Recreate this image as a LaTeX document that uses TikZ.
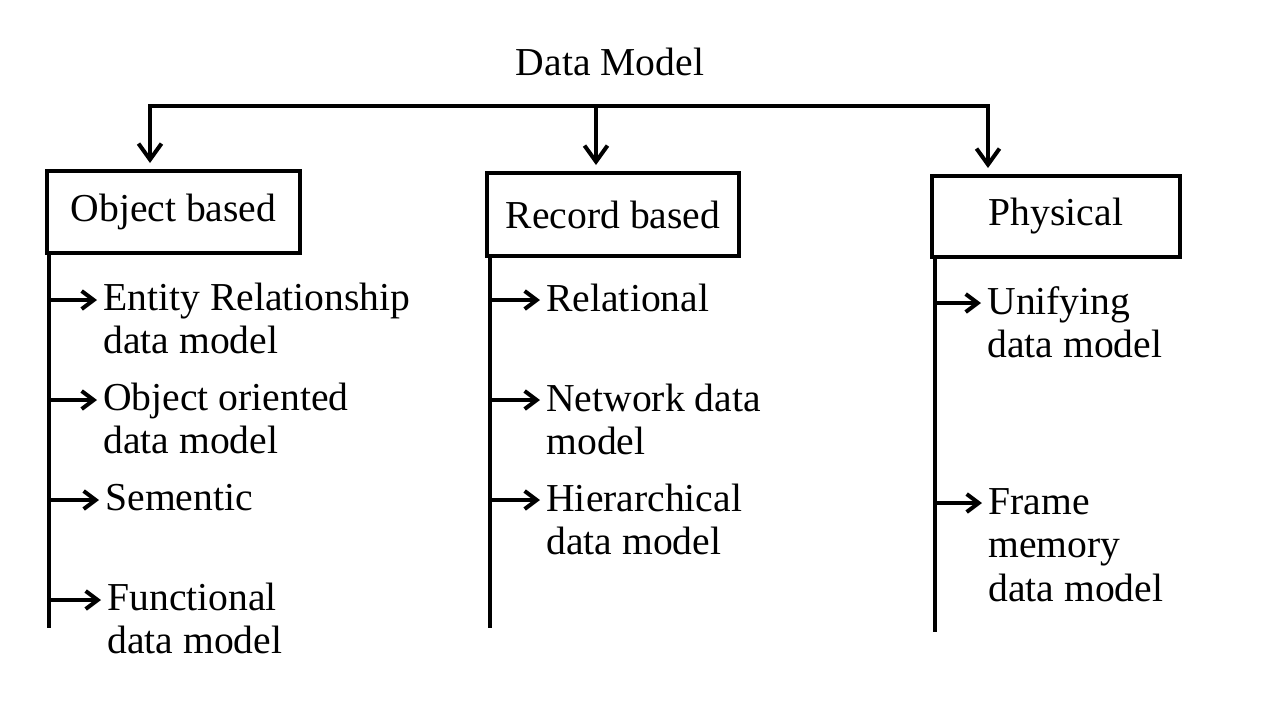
\documentclass[tikz,border=0pt]{standalone}
\usepackage{fontspec}
\setmainfont{Liberation Serif}
\usetikzlibrary{arrows.meta}
\begin{document}
\begin{tikzpicture}[x=0.5pt,y=-0.5pt,
  every node/.style={font=\fontsize{19.8}{21.8}\selectfont},
  line/.style={line width=2pt},
  box/.style={draw, line width=2pt, inner sep=0pt},
  item/.style={anchor=base west, align=left, inner sep=0pt},
  iarr/.style={line width=2pt, shorten >=3pt, -{Straight Barb[length=6pt,width=9pt,line width=2pt]}},
  darr/.style={line width=2pt, line join=miter, shorten <=3pt, shorten >=3pt,
     {Straight Barb[length=8pt,width=11.5pt,line width=2pt]}-{Straight Barb[length=8pt,width=11.5pt,line width=2pt]}},
  marr/.style={line width=2pt, shorten >=3pt, -{Straight Barb[length=8pt,width=11.5pt,line width=2pt]}}
]
\useasboundingbox[fill=white] (0,0) rectangle (1280,720);

\node (title) at (610,62) {Data Model};

\node[box, minimum width=126.5pt, minimum height=41pt] (b1) at (173.5,212) {Object based};
\node[box, minimum width=126pt, minimum height=41.5pt] (b2) at (613,214.5) {Record based};
\node[box, minimum width=124pt, minimum height=40.5pt] (b3) at (1056,216.5) {Physical};

\coordinate (tl) at (150,106);
\coordinate (tm) at (596,106);
\coordinate (tr) at (988,106);
\draw[darr] (tl |- b1.north) -- (tl) -- (tr) -- (tr |- b3.north);
\draw[marr] (tm) -- (tm |- b2.north);

% spines
\coordinate (e1) at (49,628);
\coordinate (e2) at (490,628);
\coordinate (e3) at (935,632);
\draw[line] (e1 |- b1.south) -- (e1);
\draw[line] (e2 |- b2.south) -- (e2);
\draw[line] (e3 |- b3.south) -- (e3);

% left column (base = baseline of last line)
\node[item] (i11) at (103,353.6) {Entity Relationship\\data model};
\node[item] (i12) at (103,453.6) {Object oriented\\data model};
\node[item] (i13) at (105,510) {Sementic};
\node[item] (i14) at (107,653.6) {Functional\\data model};
\coordinate (s11) at (49,300);
\coordinate (s12) at (49,400);
\coordinate (s13) at (49,500);
\coordinate (s14) at (49,600);
\draw[iarr] (s11) -- (s11 -| i11.west);
\draw[iarr] (s12) -- (s12 -| i12.west);
\draw[iarr] (s13) -- (s13 -| i13.west);
\draw[iarr] (s14) -- (s14 -| i14.west);

% middle column
\node[item] (i21) at (546,311) {Relational};
\node[item] (i22) at (546,454.6) {Network data\\model};
\node[item] (i23) at (546,554.6) {Hierarchical\\data model};
\coordinate (s21) at (490,300);
\coordinate (s22) at (490,400);
\coordinate (s23) at (490,500);
\draw[iarr] (s21) -- (s21 -| i21.west);
\draw[iarr] (s22) -- (s22 -| i22.west);
\draw[iarr] (s23) -- (s23 -| i23.west);

% right column
\node[item] (i31) at (987,357.6) {Unifying\\data model};
\node[item] (i32) at (988,601.2) {Frame\\memory\\data model};
\coordinate (s31) at (935,303);
\coordinate (s32) at (935,503);
\draw[iarr] (s31) -- (s31 -| i31.west);
\draw[iarr] (s32) -- (s32 -| i32.west);
\end{tikzpicture}
\end{document}
